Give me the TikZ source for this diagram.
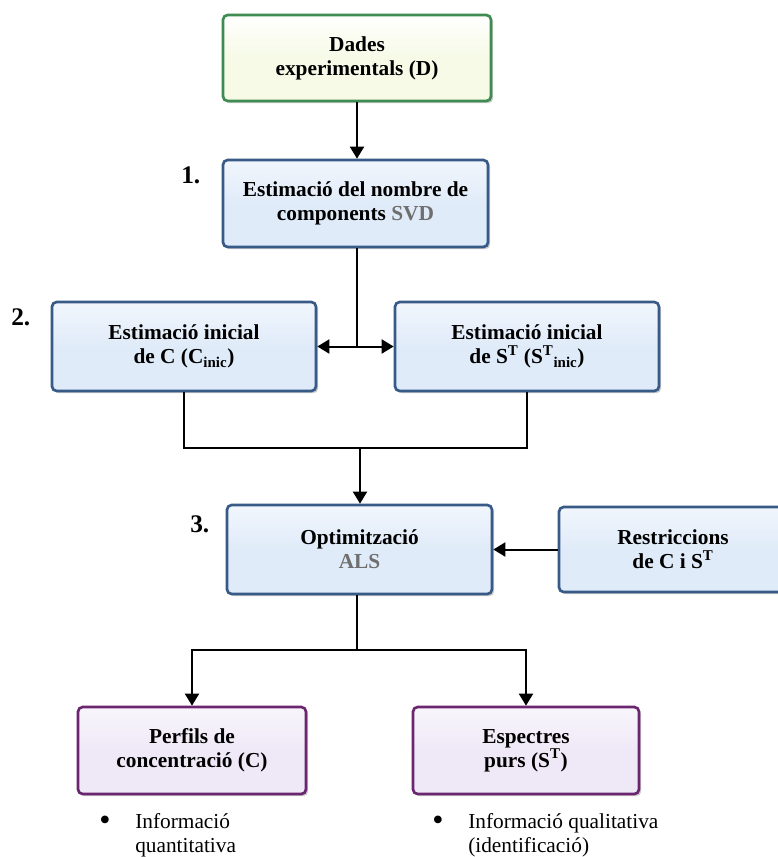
\documentclass[tikz,border=0pt]{standalone}
\usepackage{fontspec}
\setmainfont{Liberation Serif}
\usetikzlibrary{arrows.meta,shadows}

\definecolor{edgegreen}{RGB}{62,140,82}
\definecolor{fillgreen}{RGB}{246,250,230}
\definecolor{edgeblue}{RGB}{56,90,134}
\definecolor{fillblue}{RGB}{224,235,249}
\definecolor{edgepurple}{RGB}{108,38,112}
\definecolor{fillpurple}{RGB}{239,233,247}
\definecolor{softgray}{RGB}{110,110,110}

\begin{document}
\begin{tikzpicture}[x=0.75pt,y=-0.75pt,
  txt/.style={font=\fontsize{16}{18}\selectfont, inner sep=0pt},
  box/.style 2 args={font=\fontsize{16}{18}\selectfont\bfseries, align=center,
    rounded corners=3.5pt, line width=2pt, inner sep=0pt,
    minimum width=#1*0.75pt, minimum height=#2*0.75pt,
    drop shadow={shadow xshift=1.6pt, shadow yshift=-1.6pt, opacity=.4}},
  greenbox/.style={draw=edgegreen, top color=white, bottom color=fillgreen, middle color=fillgreen},
  bluebox/.style={draw=edgeblue, top color=white!55!fillblue, bottom color=fillblue, middle color=fillblue},
  purplebox/.style={draw=edgepurple, top color=white!55!fillpurple, bottom color=fillpurple, middle color=fillpurple},
  conn/.style={line width=1.5pt},
  tip/.style={-{Triangle[length=9pt,width=10.5pt]}},
  bothtips/.style={{Triangle[length=9pt,width=10.5pt]}-{Triangle[length=9pt,width=10.5pt]}},
  steplabel/.style={font=\fontsize{19}{22}\selectfont\bfseries, inner sep=0pt, anchor=base west},
  bulletmark/.style={font=\fontsize{24}{24}\selectfont, inner sep=0pt, anchor=base west}
]
\useasboundingbox[fill=white] (0,0) rectangle (778,857);

% boxes
\node[box={268}{86}, greenbox] (dades) at (357,58) {Dades\\experimentals (D)};
\node[box={265}{87}, bluebox] (b1) at (355.5,203.5) {Estimació del nombre de\\components \textcolor{softgray}{SVD}};
\node[box={264}{89}, bluebox] (b2a) at (184,346.5) {Estimació inicial\\de C (C\textsubscript{inic})};
\node[box={264}{89}, bluebox] (b2b) at (527,346.5) {Estimació inicial\\de S\textsuperscript{T} (S\textsuperscript{T}\textsubscript{inic})};
\node[box={265}{89}, bluebox] (b3) at (359.5,549.5) {Optimització\\\textcolor{softgray}{ALS}};
\node[box={228}{85}, bluebox] (restr) at (673,549.5) {Restriccions\\de C i S\textsuperscript{T}};
\node[box={228}{87}, purplebox] (perf) at (192,750.5) {Perfils de\\concentració (C)};
\node[box={226}{87}, purplebox] (esp) at (526,750.5) {Espectres\\purs (S\textsuperscript{T})};

% step numbers
\node[steplabel] (n1) at (181,183) {1.};
\node[steplabel] (n2) at (11,325) {2.};
\node[steplabel] (n3) at (190,532) {3.};

% connectors
\draw[conn, tip] (dades.south) -- (dades.south |- b1.north);
\coordinate (split) at (357,346.5);
\draw[conn] (b1.south -| split) -- (split);
\draw[conn, bothtips] (b2a.east) -- (b2b.west);
\coordinate (merge) at (360,448);
\draw[conn] (b2a.south) |- (merge) -| (b2b.south);
\draw[conn, tip] (merge) -- (merge |- b3.north);
\draw[conn, tip] (restr.west) -- (restr.west -| b3.east);
\coordinate (fork) at (357,650);
\draw[conn] (b3.south -| fork) -- (fork);
\draw[conn, bothtips] (perf.north) |- (fork) -| (esp.north);

% notes under the result boxes
\node[bulletmark] (bul1) at (99,830) {•};
\node[txt, anchor=north west, align=left] (info1) at (135,813) {Informació\\quantitativa};
\node[bulletmark] (bul2) at (432,830) {•};
\node[txt, anchor=north west, align=left] (info2) at (468,813) {Informació qualitativa\\(identificació)};
\end{tikzpicture}
\end{document}
